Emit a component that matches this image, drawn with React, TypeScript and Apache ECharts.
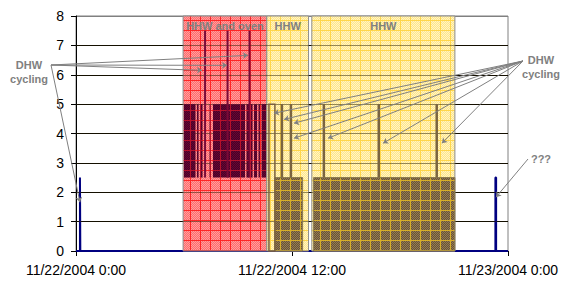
import React, { useEffect, useRef } from 'react';
import * as echarts from 'echarts';

// ---------- data ----------
const xTickHours = [0, 12, 24];
const xTickLabels = ['11/22/2004 0:00', '11/22/2004 12:00', '11/23/2004 0:00'];
const yMin = 0;
const yMax = 8;
const yStep = 1;

// shaded operating periods (hours from 11/22/2004 0:00)
const regionStart = [5.95, 10.6, 13.1];
const regionEnd = [10.6, 12.92, 21.05];
const regionLabel = ['HHW and oven', 'HHW', 'HHW'];
const regionKind = ['oven', 'hhw', 'hhw'];

// oven load band (2.5 -> 5)
const ovenBandStart = [6.0, 6.72, 6.89, 7.42, 7.61, 9.47, 9.72, 9.89, 10.14, 10.31];
const ovenBandEnd = [6.64, 6.81, 7.03, 7.5, 9.39, 9.64, 9.81, 10.06, 10.22, 10.56];
const ovenBandLow = 2.5;
const ovenBandHigh = 5;
const ovenSpikeHours = [7.17, 8.42, 9.64];
const ovenSpikeLevel = 7.5;

// HHW load blocks (0 -> 2.5)
const hhwBlockStart = [11.05, 13.2];
const hhwBlockEnd = [12.59, 21.05];
const hhwLevel = 2.5;
const dhwBoxStart = [10.72];
const dhwBoxEnd = [11.05];
const dhwBoxLevel = 5;
const dhwSpikeHours = [11.44, 11.94, 13.77, 16.82, 20.04];
const dhwSpikeLevel = 5;

// base load line
const baseHours = [0, 0.22, 0.22, 0.24, 0.24, 23.3, 23.3, 23.34, 23.34, 24];
const baseValues = [0, 0, 2.5, 2.5, 0, 0, 2.5, 2.5, 0, 0];

// annotation targets
const leftTargetHours = [9.56, 8.39, 7.0, 0.22];
const leftTargetValues = [6.66, 6.32, 6.15, 1.66];
const rightTargetHours = [11.0, 11.56, 12.11, 12.11, 14.0, 17.06, 20.33];
const rightTargetValues = [4.69, 4.48, 4.35, 3.84, 3.84, 3.67, 3.67];
const qTargetHours = [23.33];
const qTargetValues = [1.83];

// ---------- layout ----------
const LEFT_ORIGIN = [51, 65];
const RIGHT_ORIGIN = [523, 61];
const Q_ORIGIN = [528, 159];
const FONT = '"Liberation Sans", Arial, sans-serif';
const GRAY = '#808080';

function makePattern(c1: string, c2: string, line: string, size = 10) {
  const c = document.createElement('canvas');
  c.width = size;
  c.height = size;
  const ctx = c.getContext('2d')!;
  for (let y = 0; y < size; y++) {
    for (let x = 0; x < size; x++) {
      ctx.fillStyle = (x + y) % 2 ? c1 : c2;
      ctx.fillRect(x, y, 1, 1);
    }
  }
  ctx.fillStyle = line;
  ctx.fillRect(0, 0, size, 1);
  ctx.fillRect(0, 0, 1, size);
  return { image: c, repeat: 'repeat', imageWidth: size, imageHeight: size } as any;
}

export default function App() {
  const ref = useRef<HTMLDivElement>(null);
  useEffect(() => {
    const chart = echarts.init(ref.current!, null, { renderer: 'svg' });
    const redPat = makePattern('#ff6c6c', '#ff9e9e', '#ff2626');
    const yellowPat = makePattern('#ffe68a', '#fff4c4', '#ffd64a');
    const purplePat = makePattern('#4a0026', '#640834', '#b8102a');
    const brownPat = makePattern('#6a5434', '#937a56', '#d8ae28');

    const rectRender = (fill: any, stroke: string | null, lw: number) => (params: any, api: any) => {
      const p0 = api.coord([api.value(0), api.value(3)]);
      const p1 = api.coord([api.value(1), api.value(2)]);
      return {
        type: 'rect',
        shape: { x: p0[0], y: p0[1], width: p1[0] - p0[0], height: p1[1] - p0[1] },
        style: { fill, stroke: stroke || 'none', lineWidth: lw },
      };
    };
    const spikeRender = (color: string, width: number) => (params: any, api: any) => {
      const p0 = api.coord([api.value(0), api.value(1)]);
      const p1 = api.coord([api.value(0), api.value(2)]);
      return {
        type: 'line',
        shape: { x1: p0[0], y1: p0[1], x2: p1[0], y2: p1[1] },
        style: { stroke: color, lineWidth: width },
      };
    };

    const textStyle = (text: string) => ({
      text,
      font: `bold 11px ${FONT}`,
      fill: GRAY,
      align: 'center',
      verticalAlign: 'middle',
      textAlign: 'center',
      textVerticalAlign: 'middle',
      lineHeight: 14,
    });

    const annoLines: any[] = [];
    leftTargetHours.forEach((h, i) =>
      annoLines.push([{ x: LEFT_ORIGIN[0], y: LEFT_ORIGIN[1] }, { coord: [h, leftTargetValues[i]] }])
    );
    rightTargetHours.forEach((h, i) =>
      annoLines.push([{ x: RIGHT_ORIGIN[0], y: RIGHT_ORIGIN[1] }, { coord: [h, rightTargetValues[i]] }])
    );
    qTargetHours.forEach((h, i) =>
      annoLines.push([{ x: Q_ORIGIN[0], y: Q_ORIGIN[1] }, { coord: [h, qTargetValues[i]] }])
    );

    const gridValues: number[] = [];
    for (let v = yMin + yStep; v < yMax; v += yStep) gridValues.push(v);

    const splitColors: string[] = [];
    for (let v = yMin; v <= yMax; v += yStep) splitColors.push(v === yMax || v === yMin ? GRAY : '#000');

    const option: any = {
      animation: false,
      grid: { left: 76, right: 55, top: 16, bottom: 33, show: true, borderColor: GRAY, borderWidth: 1 },
      xAxis: {
        type: 'value',
        min: xTickHours[0],
        max: xTickHours[xTickHours.length - 1],
        interval: 12,
        axisLine: { show: true, lineStyle: { color: '#000', width: 1 } },
        axisTick: { show: true, inside: false, length: 5, lineStyle: { color: '#000' } },
        axisLabel: {
          fontSize: 14,
          fontFamily: FONT,
          color: '#000',
          margin: 12,
          showMinLabel: true,
          showMaxLabel: true,
          formatter: (v: number) => {
            const i = xTickHours.indexOf(v);
            return i >= 0 ? xTickLabels[i] : '';
          },
        },
        splitLine: { show: false },
      },
      yAxis: {
        type: 'value',
        min: yMin,
        max: yMax,
        interval: yStep,
        axisLine: { show: true, lineStyle: { color: '#000', width: 1 } },
        axisTick: { show: true, inside: false, length: 5, lineStyle: { color: '#000' } },
        axisLabel: { fontSize: 14, fontFamily: FONT, color: '#000', margin: 12 },
        splitLine: { show: true, lineStyle: { color: splitColors, width: 1 } },
      },
      graphic: [
        { type: 'text', x: 29, y: 72, style: textStyle('DHW\ncycling'), silent: true },
        { type: 'text', x: 541, y: 67, style: textStyle('DHW\ncycling'), silent: true },
        { type: 'text', x: 541, y: 159, style: textStyle('???'), silent: true },
      ],
      series: [
        {
          type: 'line',
          z: 2,
          silent: true,
          clip: false,
          showSymbol: false,
          symbol: 'none',
          lineStyle: { color: '#000080', width: 2 },
          data: baseHours.map((h, i) => [h, baseValues[i]]),
          markLine: {
            z: 8,
            silent: true,
            symbol: ['none', 'arrow'],
            symbolSize: 5,
            label: { show: false },
            lineStyle: { color: GRAY, width: 1, type: 'solid' },
            emphasis: { disabled: true },
            data: annoLines,
          },
        },
        {
          type: 'custom',
          z: 3,
          silent: true,
          encode: { x: [0, 1], y: [2, 3] },
          data: regionStart.map((s, i) => [s, regionEnd[i], yMin, yMax, i]),
          renderItem: (params: any, api: any) => {
            const i = api.value(4);
            const p0 = api.coord([api.value(0), api.value(3)]);
            const p1 = api.coord([api.value(1), api.value(2)]);
            return {
              type: 'group',
              children: [
                {
                  type: 'rect',
                  shape: { x: p0[0], y: p0[1], width: p1[0] - p0[0], height: p1[1] - p0[1] },
                  style: { fill: regionKind[i] === 'oven' ? redPat : yellowPat, stroke: '#8c8c8c', lineWidth: 1 },
                },
                {
                  type: 'text',
                  x: (p0[0] + p1[0]) / 2,
                  y: p0[1] + 10,
                  style: textStyle(regionLabel[i]),
                },
              ],
            };
          },
          markLine: {
            z: 4,
            silent: true,
            symbol: 'none',
            label: { show: false },
            lineStyle: { color: 'rgba(40,30,0,0.5)', width: 1, type: 'solid' },
            emphasis: { disabled: true },
            data: gridValues.map((v) => ({ yAxis: v })),
          },
        },
        {
          type: 'custom',
          z: 5,
          silent: true,
          encode: { x: [0, 1], y: [2, 3] },
          data: ovenBandStart.map((s, i) => [s, ovenBandEnd[i], ovenBandLow, ovenBandHigh]),
          renderItem: rectRender(purplePat, null, 0),
        },
        {
          type: 'custom',
          z: 5,
          silent: true,
          encode: { x: [0, 1], y: [2, 3] },
          data: hhwBlockStart.map((s, i) => [s, hhwBlockEnd[i], 0, hhwLevel]),
          renderItem: rectRender(brownPat, '#8c7c50', 1),
        },
        {
          type: 'custom',
          z: 5,
          silent: true,
          encode: { x: [0, 1], y: [2, 3] },
          data: dhwBoxStart.map((s, i) => [s, dhwBoxEnd[i], 0, dhwBoxLevel]),
          renderItem: rectRender('none', '#7a6040', 1.5),
        },
        {
          type: 'custom',
          z: 6,
          silent: true,
          encode: { x: 0, y: [1, 2] },
          data: ovenSpikeHours.map((h) => [h, ovenBandLow, ovenSpikeLevel]),
          renderItem: spikeRender('#7a0a38', 2),
        },
        {
          type: 'custom',
          z: 6,
          silent: true,
          encode: { x: 0, y: [1, 2] },
          data: dhwSpikeHours.map((h) => [h, hhwLevel, dhwSpikeLevel]),
          renderItem: spikeRender('#7a6440', 2.5),
        },
      ],
    };
    chart.setOption(option);
    return () => chart.dispose();
  }, []);
  return (
    <div
      ref={ref}
      style={{ position: 'fixed', left: 0, top: 0, width: 563, height: 284, background: '#fff' }}
    />
  );
}
